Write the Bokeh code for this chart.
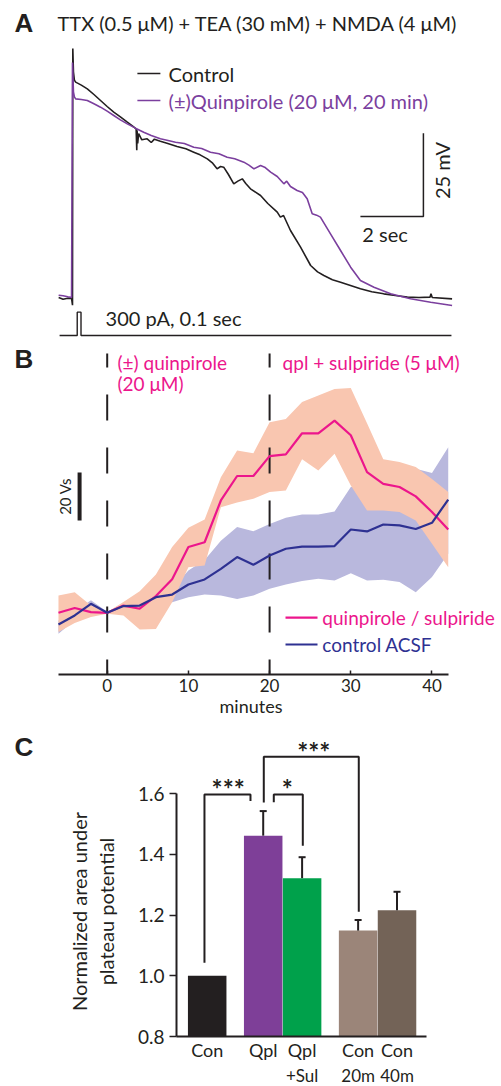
import math
from bokeh.plotting import figure
from bokeh.layouts import column, row
from bokeh.models import Label, FixedTicker, PrintfTickFormatter
from bokeh.embed import file_html
from bokeh.resources import INLINE

FONT = "Lato"
BOLD = "Liberation Sans"
INK = "#231f20"

# ---------------- Panel A data (time s, membrane potential mV rel. baseline) ----------------
ctrl_t = [-0.44, -0.3, -0.15, -0.03, 0.0, 0.01, 0.03, 0.06, 0.10, 0.28, 0.47, 0.68, 0.89, 1.1, 1.31,
          1.52, 1.74, 1.9, 2.02, 2.04, 2.05, 2.07, 2.1, 2.2, 2.37, 2.5, 2.6, 2.79, 3.0, 3.32, 3.6,
          3.85, 4.05, 4.28, 4.45, 4.59, 4.7, 4.80, 4.95, 5.12, 5.25, 5.39, 5.5, 5.65, 5.97, 6.2,
          6.50, 6.6, 6.7, 6.92, 7.24, 7.56, 7.78, 7.98, 8.25, 8.51, 9.14, 9.5, 9.88, 10.25, 10.63,
          11.0, 11.35, 11.38, 11.42, 12.05]
ctrl_mv = [0.3, -0.2, 0.1, 0.0, -2.0, 75.0, 68.0, 65.5, 64.9, 64.0, 62.9, 61.2, 59.4, 57.6, 55.9,
           54.5, 52.9, 51.8, 50.9, 44.5, 50.5, 46.5, 49.5, 47.6, 47.9, 46.8, 47.8, 47.2, 46.6, 45.6, 44.9,
           43.9, 43.1, 41.9, 40.6, 38.9, 39.6, 39.4, 37.2, 34.4, 35.2, 35.9, 34.5, 32.9, 30.9, 28.5,
           25.9, 24.4, 24.9, 20.4, 15.4, 9.9, 8.0, 6.9, 5.6, 4.9, 2.9, 2.0, 1.4, 0.9, 0.4,
           0.3, 0.4, 1.4, 0.3, -0.1]
qpl_t = [-0.44, -0.3, -0.15, -0.03, 0.0, 0.03, 0.06, 0.10, 0.28, 0.47, 0.68, 0.89, 1.1, 1.31, 1.52,
         1.74, 2.0, 2.26, 2.5, 2.79, 3.0, 3.27, 3.55, 3.85, 4.1, 4.38, 4.65, 4.91, 5.15, 5.44, 5.6,
         5.76, 5.97, 6.1, 6.29, 6.5, 6.71, 6.8, 6.92, 7.13, 7.3, 7.45, 7.61, 7.75, 7.87, 8.19, 8.51,
         8.83, 9.14, 9.57, 10.1, 10.73, 11.37, 12.05]
qpl_mv = [1.0, 0.8, 0.5, 0.3, 70.8, 62.0, 60.5, 59.9, 59.7, 59.4, 58.4, 57.4, 56.2, 54.9, 53.6,
          52.4, 51.1, 49.9, 48.9, 47.9, 47.5, 46.9, 46.5, 45.4, 45.0, 43.9, 43.4, 42.4, 41.9, 40.9, 40.0,
          38.9, 39.9, 39.4, 37.9, 36.6, 34.4, 35.2, 33.6, 32.4, 31.8, 29.9, 25.4, 25.0, 24.4, 19.4, 14.4,
          9.4, 5.4, 3.4, 1.4, -0.1, -1.1, -2.1]
stim_t = [-0.41, 0.15, 0.15, 0.27, 0.27, 12.03]
stim_pa = [0, 0, 300, 300, 0, 0]

# ---------------- Panel B data (minutes, area change in Vs) ----------------
minutes = [-6, -4, -2, 0, 2, 4, 6, 8, 10, 12, 14, 16, 18, 20, 22, 24, 26, 28, 30, 32, 34, 36, 38, 40, 42]
qpl_mean = [0, 2, 0.3, 0, 3, 1.7, 7, 14, 27.4, 29.4, 46.8, 57, 57, 65.3, 66, 74.8, 74.8, 80.1, 74,
            58.6, 53.75, 52.4, 48.5, 42, 34.7]
qpl_upper = [7.2, 8.6, 3, 0.3, 4.5, 9, 16, 27.4, 35.4, 38.9, 56.5, 67.6, 66.5, 79.4, 80.8, 87.8, 90.5,
             93.3, 93.7, 79, 64, 62.8, 60.7, 55.8, 50.3]
qpl_lower = [-8, -4.3, -1.8, -0.4, -1.1, -7, -6.7, 4.4, 19, 19.7, 44, 46, 47.5, 50.3, 51, 64, 59.3,
             66.3, 53, 42.6, 42.6, 42, 38.5, 28.8, 19]
acsf_mean = [-4.9, -1.1, 3.75, 0, 2.8, 3, 6.5, 7.6, 11.8, 13.9, 18.3, 23.2, 20, 23.9, 26.7, 27.6, 27.6,
             27.8, 34.7, 33.9, 36.8, 36.4, 34.9, 37.5, 47.2]
acsf_upper = [-3.2, 0.4, 5.2, 0.4, 3.8, 4.2, 8.5, 10, 17.6, 22, 30, 35.7, 34, 37, 39.6, 41, 41, 42.2,
              52.4, 53, 60.7, 60.7, 60, 58.3, 69]
acsf_lower = [-8.75, -3, 1, -0.4, 1.6, 1.8, 4.8, 4.4, 6.5, 7.6, 7.2, 5.8, 7.2, 10, 11.8, 13.2, 14.2,
              13.5, 16.5, 13.5, 13.75, 12.8, 8.6, 14.9, 24.6]
b_ticks = [0, 10, 20, 30, 40]

# ---------------- Panel C data ----------------
cond_line1 = ["Con", "Qpl", "Qpl", "Con", "Con"]
cond_line2 = ["", "", "+Sul", "20m", "40m"]
norm_area = [1.0, 1.462, 1.322, 1.149, 1.216]
norm_sem = [0.0, 0.081, 0.069, 0.035, 0.061]
c_ticks = [0.8, 1.0, 1.2, 1.4, 1.6]
sig_marks = ["***", "*", "***"]

# layout-only values
bar_x = [0, 1.44, 2.44, 3.88, 4.88]
bar_colors = [INK, "#7e3f98", "#00a14b", "#9b8579", "#736357"]


def base_fig(w, h, xr, yr, **kw):
    p = figure(width=w, height=h, x_range=xr, y_range=yr, output_backend="svg",
               toolbar_location=None, tools="", **kw)
    p.outline_line_color = None
    p.background_fill_color = "white"
    p.border_fill_color = "white"
    p.xgrid.visible = False
    p.ygrid.visible = False
    p.frame_align = False
    return p


def lab(p, x, y, text, size, color=INK, font=FONT, align="left", angle=0.0, style="normal"):
    p.add_layout(Label(x=x, y=y, text=text, text_font=font, text_font_size=size,
                       text_color=color, text_align=align, text_baseline="middle",
                       angle=angle, text_font_style=style))


# ======================= Panel A =======================
pa = base_fig(501, 345, (-2.2857, 13.619), (-14.1, 89.4), x_axis_type=None, y_axis_type=None,
              min_border=0)
PURPLE = "#7b3f9e"
pa.line(ctrl_t, ctrl_mv, color=INK, line_width=1.6)
pa.line(qpl_t, qpl_mv, color=PURPLE, line_width=1.6)
stim_y = [-11.1 + v * (7.0 / 300.0) for v in stim_pa]
pa.line(stim_t, stim_y, color=INK, line_width=1.4)
# scale bars: 2 sec, 25 mV
pa.line([9.14, 11.14, 11.14], [24.6, 24.6, 49.6], color=INK, line_width=1.5)
# legend
pa.segment([2.06, 2.06], [67.5, 59.4], [2.79, 2.79], [67.5, 59.4], color=[INK, PURPLE], line_width=1.6)
lab(pa, 3.05, 67.5, "Control", "20px")
lab(pa, 3.05, 59.4, "(\u00b1)Quinpirole (20 \u03bcM, 20 min)", "20px", color=PURPLE)
lab(pa, -1.84, 82.8, "A", "26px", font=BOLD, style="bold")
lab(pa, -0.476, 82.8, "TTX (0.5 \u03bcM) + TEA (30 mM) + NMDA (4 \u03bcM)", "20px")
lab(pa, 1.05, -5.7, "300 pA, 0.1 sec", "20px")
lab(pa, 9.2, 19.5, "2 sec", "20px")
lab(pa, 11.74, 38.4, "25 mV", "20px", align="center", angle=math.pi / 2)

# ======================= Panel B =======================
MAG = "#ec168c"
NAVY = "#2e3192"
pb = base_fig(501, 375, (-13.14, 48.56), (-25.71, 111.375), y_axis_type=None,
              min_border_left=0, min_border_right=0, min_border_top=0, min_border_bottom=46)
pb.varea(x=minutes, y1=acsf_lower, y2=acsf_upper, fill_color="#b9b8dd", fill_alpha=1.0)
pb.varea(x=minutes, y1=qpl_lower, y2=qpl_upper, fill_color="#f9c6b0", fill_alpha=1.0)
pb.segment([0, 20], [108.0, 108.0], [0, 20], [-27.0, -27.0], color=INK, line_width=2,
           line_dash="26 27", line_dash_offset=12)
pb.line(minutes, qpl_mean, color=MAG, line_width=2.2)
pb.line(minutes, acsf_mean, color=NAVY, line_width=2.2)
# 20 Vs scale bar
pb.segment([-3.4], [38.5], [-3.4], [58.5], color=INK, line_width=4)
lab(pb, -5.14, 48.5, "20 Vs", "15px", align="center", angle=math.pi / 2)
# legend
pb.segment([21.96, 21.96], [-2.0, -13.2], [25.9, 25.9], [-2.0, -13.2], color=[MAG, NAVY], line_width=2.2)
lab(pb, 26.5, -2.0, "quinpirole / sulpiride", "19px", color=MAG)
lab(pb, 26.5, -13.2, "control ACSF", "19px", color=NAVY)
lab(pb, 1.27, 104.3, "(\u00b1) quinpirole", "19px", color=MAG)
lab(pb, 1.27, 95.5, "(20 \u03bcM)", "19px", color=MAG)
lab(pb, 21.6, 104.3, "qpl + sulpiride (5 \u03bcM)", "19px", color=MAG)
lab(pb, -11.42, 105.75, "B", "26px", font=BOLD, style="bold")

xb = pb.xaxis[0]
xb.bounds = (-6, 42)
xb.ticker = FixedTicker(ticks=b_ticks)
xb.axis_line_width = 2
xb.axis_line_color = INK
xb.major_tick_line_width = 1.5
xb.major_tick_line_color = INK
xb.major_tick_in = 4
xb.major_tick_out = 0
xb.minor_tick_line_color = None
xb.major_label_text_font = FONT
xb.major_label_text_font_size = "17px"
xb.major_label_text_color = INK
xb.major_label_standoff = 4
xb.axis_label = "minutes"
xb.axis_label_text_font = FONT
xb.axis_label_text_font_size = "18px"
xb.axis_label_text_font_style = "normal"
xb.axis_label_text_color = INK
xb.axis_label_standoff = 0

# ======================= Panel C =======================
C_H = 343
# left strip: panel letter and the y-axis title (centred on the drawn axis)
pcl = base_fig(125, C_H, (0, 125), (0, C_H), x_axis_type=None, y_axis_type=None, min_border=0)
lab(pcl, 14, C_H - 26, "C", "26px", font=BOLD, style="bold")
lab(pcl, 78, C_H - 191, "Normalized area under", "20px", align="center", angle=math.pi / 2)
lab(pcl, 105, C_H - 191, "plateau potential", "20px", align="center", angle=math.pi / 2)

pc = base_fig(376, C_H, (-0.789, 7.566), (0.8, 1.8416),
              min_border_left=51, min_border_right=0, min_border_top=0, min_border_bottom=24)
pc.vbar(x=bar_x, top=norm_area, bottom=0.8, width=0.99, fill_color=bar_colors, line_color=None)
err_x = [bar_x[i] for i in range(1, 5)]
err_lo = [norm_area[i] for i in range(1, 5)]
err_hi = [norm_area[i] + norm_sem[i] for i in range(1, 5)]
pc.segment(err_x, err_lo, err_x, err_hi, color=INK, line_width=2)
pc.segment([x - 0.09 for x in err_x], err_hi, [x + 0.09 for x in err_x], err_hi, color=INK, line_width=2)
br_x = [[-0.07, -0.07, 1.113, 1.113], [1.712, 1.712, 2.458, 2.458], [1.455, 1.455, 3.897, 3.897]]
br_y = [[1.043, 1.598, 1.598, 1.576], [1.572, 1.598, 1.598, 1.429], [1.571, 1.722, 1.722, 1.211]]
pc.multi_line(br_x, br_y, color=INK, line_width=2)
star_x = [0.54, 2.056, 2.74]
star_y = [1.617, 1.617, 1.738]
for sx, sy, s in zip(star_x, star_y, sig_marks):
    lab(pc, sx, sy, s, "26px", align="center", style="bold")

yc = pc.yaxis[0]
yc.bounds = (0.8, 1.6)
yc.ticker = FixedTicker(ticks=c_ticks)
yc.formatter = PrintfTickFormatter(format="%.1f")
yc.axis_line_width = 2
yc.axis_line_color = INK
yc.major_tick_line_width = 1.5
yc.major_tick_line_color = INK
yc.major_tick_out = 7
yc.major_tick_in = 0
yc.minor_tick_line_color = None
yc.major_label_text_font = FONT
yc.major_label_text_font_size = "19px"
yc.major_label_text_color = INK
yc.major_label_standoff = 5

xc = pc.xaxis[0]
xc.bounds = (-0.8, 5.65)
xc.ticker = FixedTicker(ticks=bar_x)
xc.major_label_overrides = {bar_x[i]: cond_line1[i] for i in range(5)}
xc.axis_line_width = 2
xc.axis_line_color = INK
xc.major_tick_in = 0
xc.major_tick_out = 0
xc.minor_tick_line_color = None
xc.major_label_text_font = FONT
xc.major_label_text_font_size = "18px"
xc.major_label_text_color = INK
xc.major_label_standoff = 2

# bottom strip: second line of the category labels, on the same x scale as panel C
S_H = 1086 - 345 - 375 - C_H
pcs = base_fig(501, S_H, (-5.314, 7.566), (0, S_H), x_axis_type=None, y_axis_type=None, min_border=0)
for bx, t in zip(bar_x, cond_line2):
    if t:
        lab(pcs, bx, S_H / 2.0, t, "17px", align="center")

layout = column(pa, pb, row(pcl, pc, spacing=0), pcs, spacing=0)
open("out.html", "w").write(file_html(layout, INLINE))
